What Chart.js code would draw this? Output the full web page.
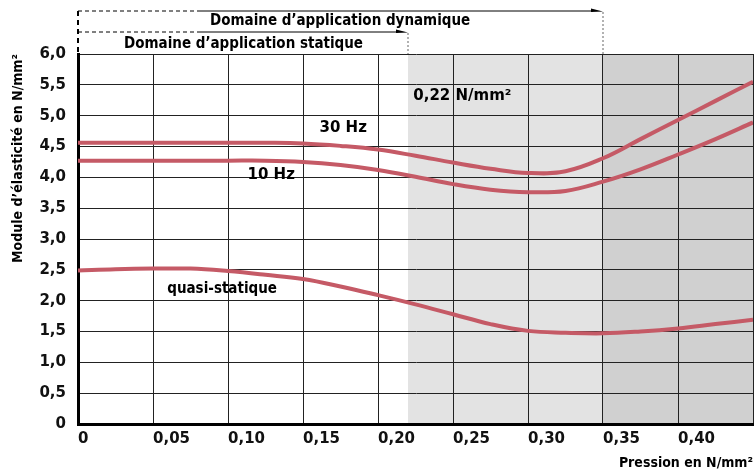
<!DOCTYPE html>
<html>
<head>
<meta charset="utf-8">
<script src="https://cdn.jsdelivr.net/npm/chart.js@4"></script>
<style>
  html, body { margin: 0; padding: 0; background: #fff; }
  #wrap { width: 755px; height: 470px; position: relative; }
</style>
</head>
<body>
<div id="wrap"><canvas id="chart"></canvas></div>
<script>
// pressure (N/mm²)
const pression = [0, 0.025, 0.05, 0.075, 0.10, 0.125, 0.15, 0.175, 0.20, 0.225,
                  0.25, 0.275, 0.30, 0.325, 0.35, 0.375, 0.40, 0.425, 0.45];
// modulus (N/mm²)
const hz30 = [4.56, 4.56, 4.56, 4.56, 4.56, 4.56, 4.55, 4.51, 4.45, 4.35,
              4.24, 4.14, 4.07, 4.10, 4.31, 4.62, 4.93, 5.24, 5.55];
const hz10 = [4.27, 4.27, 4.27, 4.27, 4.27, 4.27, 4.25, 4.20, 4.12, 4.01,
              3.89, 3.80, 3.76, 3.78, 3.93, 4.13, 4.37, 4.62, 4.89];
const quasi = [2.49, 2.51, 2.52, 2.52, 2.48, 2.42, 2.35, 2.23, 2.09, 1.94,
               1.78, 1.62, 1.51, 1.48, 1.47, 1.50, 1.55, 1.62, 1.69];
const seriesNames = ['30 Hz', '10 Hz', 'quasi-statique'];

// zones
const zoneStatEnd = 0.22;
const zoneDynEnd = 0.35;

const RED = '#c55a66';
const BOLD = "bold 15px 'DejaVu Sans'";
const COND = "bold 15px 'DejaVu Sans Condensed', 'Liberation Sans Narrow', 'DejaVu Sans'";

function pts(ys) { return pression.map((x, i) => ({ x: x, y: ys[i] })); }
function comma(v, d) { return v === 0 ? '0' : v.toFixed(d).replace('.', ','); }

const zonesPlugin = {
  id: 'zones',
  beforeDraw(chart) {
    const { ctx, chartArea: a, scales: { x } } = chart;
    ctx.save();
    ctx.fillStyle = '#e3e3e3';
    ctx.fillRect(x.getPixelForValue(zoneStatEnd), a.top, x.getPixelForValue(zoneDynEnd) - x.getPixelForValue(zoneStatEnd), a.bottom - a.top);
    ctx.fillStyle = '#d0d0d0';
    ctx.fillRect(x.getPixelForValue(zoneDynEnd), a.top, a.right - x.getPixelForValue(zoneDynEnd), a.bottom - a.top);
    ctx.restore();
  }
};

function bracket(ctx, x0, x1, y, bottom, solidFrom) {
  ctx.strokeStyle = '#000';
  ctx.lineWidth = 1;
  ctx.setLineDash([4, 3]);
  ctx.beginPath(); ctx.moveTo(x0, y); ctx.lineTo(solidFrom, y); ctx.stroke();
  ctx.setLineDash([]);
  ctx.beginPath(); ctx.moveTo(solidFrom, y); ctx.lineTo(x1 - 10, y); ctx.stroke();
  ctx.fillStyle = '#000';
  ctx.beginPath(); ctx.moveTo(x1 - 12, y - 2.5); ctx.lineTo(x1, y + 0.5); ctx.lineTo(x1 - 12, y + 1); ctx.closePath(); ctx.fill();
  ctx.strokeStyle = '#666';
  ctx.setLineDash([2, 2]);
  ctx.beginPath(); ctx.moveTo(x1, y + 1); ctx.lineTo(x1, bottom); ctx.stroke();
  ctx.setLineDash([]);
}

const notesPlugin = {
  id: 'notes',
  afterDraw(chart) {
    const { ctx, chartArea: a, scales: { x, y } } = chart;
    ctx.save();
    const x0 = x.getPixelForValue(0);
    ctx.strokeStyle = '#000';
    ctx.lineWidth = 2;
    ctx.setLineDash([5, 4]);
    ctx.beginPath(); ctx.moveTo(x0, 11); ctx.lineTo(x0, a.top); ctx.stroke();
    ctx.setLineDash([]);
    bracket(ctx, x0, x.getPixelForValue(zoneDynEnd), 11, a.top, 200);
    bracket(ctx, x0, x.getPixelForValue(zoneStatEnd), 32, a.top, 200);

    ctx.fillStyle = '#000';
    ctx.textBaseline = 'middle';
    ctx.textAlign = 'left';
    ctx.font = COND;
    ctx.fillText('Domaine d\u2019application dynamique', 210, 21);
    ctx.fillText('Domaine d\u2019application statique', 124, 44);

    ctx.font = BOLD;
    ctx.fillText(seriesNames[0], x.getPixelForValue(0.161), y.getPixelForValue(4.80));
    ctx.fillText(seriesNames[1], x.getPixelForValue(0.113), y.getPixelForValue(4.03));
    ctx.fillText('0,22 N/mm\u00b2', x.getPixelForValue(0.2235), y.getPixelForValue(5.31));
    ctx.font = COND;
    ctx.fillText(seriesNames[2], x.getPixelForValue(0.0595), y.getPixelForValue(2.19));
    ctx.restore();
  }
};

const line = (label, ys) => ({
  label: label,
  data: pts(ys),
  borderColor: RED,
  borderWidth: 4,
  pointRadius: 0,
  tension: 0.4,
  fill: false
});

new Chart(document.getElementById('chart').getContext('2d'), {
  type: 'line',
  data: { datasets: [line(seriesNames[0], hz30), line(seriesNames[1], hz10), line(seriesNames[2], quasi)] },
  options: {
    responsive: true,
    maintainAspectRatio: false,
    animation: false,
    layout: { padding: { top: 54, right: 2, left: 0, bottom: 0 } },
    plugins: { legend: { display: false }, tooltip: { enabled: false } },
    scales: {
      x: {
        type: 'linear',
        min: 0, max: 0.45,
        afterFit(s) { s.height = 46; s.paddingLeft = 0; s.paddingRight = 0; },
        afterBuildTicks(s) { s.ticks = pression.filter((v, i) => i % 2 === 0).map(v => ({ value: v })); },
        ticks: {
          autoSkip: false, maxRotation: 0, align: 'start', padding: 6,
          color: '#111', font: { family: 'DejaVu Sans', weight: 'bold', size: 15 },
          callback: v => (Math.abs(v - 0.45) < 1e-6 ? '' : comma(v, 2))
        },
        grid: { color: '#222', lineWidth: 1, drawTicks: false },
        border: { display: true, color: '#000', width: 3 },
        title: {
          display: true, text: 'Pression en N/mm\u00b2', align: 'end', color: '#000',
          padding: { top: 0, bottom: 0 },
          font: { family: "'DejaVu Sans Condensed', 'Liberation Sans Narrow', 'DejaVu Sans'", weight: 'bold', size: 14, lineHeight: 1 }
        }
      },
      y: {
        min: 0, max: 6,
        afterFit(s) { s.width = 78; s.paddingTop = 0; s.paddingBottom = 0; },
        ticks: {
          stepSize: 0.5, padding: 12, color: '#111',
          font: { family: 'DejaVu Sans', weight: 'bold', size: 15 },
          callback: v => comma(v, 1)
        },
        grid: { color: '#222', lineWidth: 1, drawTicks: false },
        border: { display: true, color: '#000', width: 3 },
        title: {
          display: true, text: 'Module d\u2019\u00e9lasticit\u00e9 en N/mm\u00b2', align: 'end', color: '#000',
          padding: { top: 11, bottom: 0 },
          font: { family: "'DejaVu Sans Condensed', 'Liberation Sans Narrow', 'DejaVu Sans'", weight: 'bold', size: 14, lineHeight: 1 }
        }
      }
    }
  },
  plugins: [zonesPlugin, notesPlugin]
});
</script>
</body>
</html>
